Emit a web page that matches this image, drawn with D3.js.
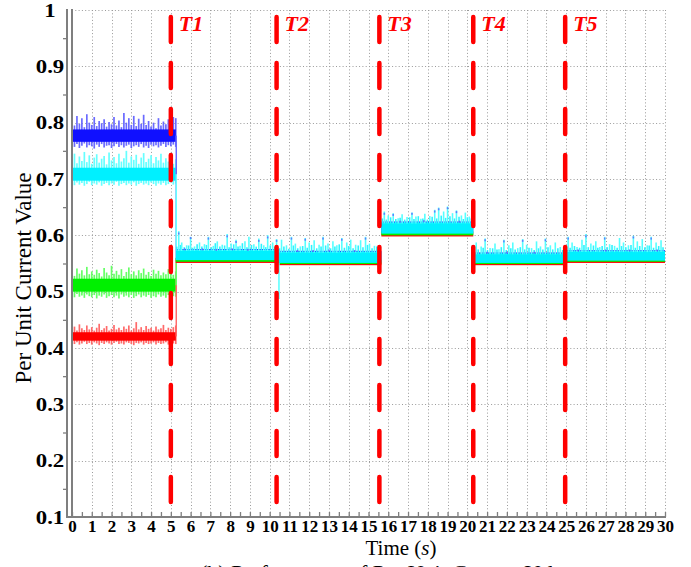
<!DOCTYPE html>
<html>
<head>
<meta charset="utf-8">
<script src="https://cdn.jsdelivr.net/npm/d3@7"></script>
<style>
body { margin: 0; background: #fff; }
svg { display: block; }
svg text { font-family: "Liberation Serif", Tinos, "Times New Roman", Times, "Nimbus Roman", FreeSerif, serif; }
</style>
</head>
<body>
<svg id="chart" width="691" height="567"></svg>
<script>
// ---- values ----
const timeTicks = d3.range(0, 31);
const valueTicks = [0.1, 0.2, 0.3, 0.4, 0.5, 0.6, 0.7, 0.8, 0.9, 1];
const events = [
	{ name: 'T1', t: 5.0 },
	{ name: 'T2', t: 10.35 },
	{ name: 'T3', t: 15.55 },
	{ name: 'T4', t: 20.3 },
	{ name: 'T5', t: 24.95 }
];

// first interval (0 - 5.25 s): noisy samples, upper / lower excursions
const startEnd = 5.25;
const blueUp = [0.805, 0.795, 0.812, 0.798, 0.808, 0.792, 0.815, 0.8, 0.796, 0.81, 0.794, 0.803, 0.799, 0.806, 0.793, 0.801, 0.797, 0.81, 0.795, 0.804, 0.792, 0.817, 0.8, 0.808, 0.796, 0.812, 0.794, 0.807, 0.798, 0.814, 0.796, 0.803, 0.793, 0.8, 0.79, 0.808, 0.795, 0.802, 0.797, 0.806, 0.792, 0.81, 0.808];
const blueDn = [0.76, 0.757, 0.762, 0.755, 0.759, 0.763, 0.756, 0.76, 0.758, 0.754, 0.761, 0.757, 0.762, 0.756, 0.759, 0.76, 0.755, 0.758, 0.762, 0.757, 0.76, 0.756, 0.759, 0.761, 0.755, 0.758, 0.76, 0.757, 0.762, 0.756, 0.759, 0.755, 0.761, 0.758, 0.76, 0.756, 0.759, 0.762, 0.757, 0.76, 0.758, 0.761, 0.757];
const cyanUp = [0.735, 0.745, 0.728, 0.74, 0.732, 0.748, 0.73, 0.742, 0.727, 0.738, 0.744, 0.729, 0.736, 0.741, 0.726, 0.747, 0.733, 0.739, 0.728, 0.745, 0.731, 0.737, 0.75, 0.729, 0.74, 0.734, 0.743, 0.727, 0.738, 0.746, 0.73, 0.736, 0.742, 0.728, 0.739, 0.733, 0.745, 0.729, 0.737, 0.731, 0.741, 0.727, 0.735];
const cyanDn = [0.692, 0.689, 0.694, 0.69, 0.693, 0.688, 0.691, 0.695, 0.689, 0.692, 0.69, 0.694, 0.688, 0.691, 0.693, 0.689, 0.692, 0.69, 0.695, 0.688, 0.691, 0.693, 0.689, 0.692, 0.69, 0.694, 0.688, 0.691, 0.693, 0.69, 0.692, 0.689, 0.694, 0.691, 0.688, 0.692, 0.69, 0.693, 0.689, 0.691, 0.694, 0.69, 0.692];
const greenUp = [0.535, 0.528, 0.541, 0.532, 0.538, 0.529, 0.544, 0.531, 0.536, 0.53, 0.539, 0.533, 0.527, 0.542, 0.534, 0.529, 0.546, 0.532, 0.537, 0.53, 0.54, 0.528, 0.535, 0.543, 0.531, 0.536, 0.529, 0.538, 0.533, 0.541, 0.53, 0.535, 0.528, 0.539, 0.532, 0.537, 0.529, 0.534, 0.531, 0.54, 0.533, 0.53, 0.536];
const greenDn = [0.494, 0.49, 0.496, 0.491, 0.493, 0.489, 0.495, 0.492, 0.49, 0.494, 0.488, 0.493, 0.491, 0.495, 0.489, 0.492, 0.494, 0.49, 0.493, 0.488, 0.495, 0.491, 0.493, 0.49, 0.494, 0.489, 0.492, 0.495, 0.49, 0.493, 0.491, 0.494, 0.489, 0.492, 0.49, 0.495, 0.491, 0.493, 0.489, 0.494, 0.49, 0.492, 0.491];
const redUp = [0.434, 0.438, 0.431, 0.442, 0.435, 0.432, 0.44, 0.433, 0.437, 0.431, 0.436, 0.443, 0.432, 0.435, 0.439, 0.431, 0.434, 0.441, 0.433, 0.436, 0.432, 0.438, 0.434, 0.44, 0.431, 0.435, 0.446, 0.433, 0.437, 0.432, 0.439, 0.434, 0.436, 0.431, 0.438, 0.433, 0.435, 0.441, 0.432, 0.436, 0.434, 0.437, 0.44];
const redDn = [0.409, 0.407, 0.41, 0.406, 0.408, 0.411, 0.407, 0.409, 0.406, 0.41, 0.408, 0.405, 0.409, 0.407, 0.41, 0.408, 0.406, 0.409, 0.411, 0.407, 0.408, 0.406, 0.41, 0.409, 0.407, 0.405, 0.409, 0.408, 0.41, 0.406, 0.409, 0.407, 0.408, 0.41, 0.406, 0.409, 0.407, 0.408, 0.41, 0.406, 0.409, 0.408, 0.407];
const startCore = { blue: [0.766, 0.788], cyan: [0.697, 0.72], green: [0.5, 0.523], red: [0.413, 0.428] };

// later intervals: switching times and [low, high] band of each phase
const stepTimes = [5.25, 10.45, 15.65, 20.3, 24.95, 30];
const blueBand = [[0.557, 0.5755], [0.552, 0.5725], [0.604, 0.6245], [0.552, 0.5695], [0.556, 0.5735]];
const redBand = [[0.551, 0.557], [0.547, 0.553], [0.598, 0.604], [0.547, 0.553], [0.551, 0.557]];
const greenBand = [[0.553, 0.56], [0.549, 0.556], [0.6, 0.607], [0.549, 0.556], [0.553, 0.56]];
const cyanBand = [[0.556, 0.574], [0.551, 0.571], [0.603, 0.623], [0.551, 0.568], [0.555, 0.572]];

// cyan spikes above the band [time, value]
const cyanPeaks = [
	[5.4, 0.61], [5.55, 0.59], [5.8, 0.585], [6.0, 0.6], [6.2, 0.583], [6.45, 0.59], [6.7, 0.587], [6.9, 0.6], [7.15, 0.584], [7.35, 0.592], [7.6, 0.586], [7.85, 0.605], [8.05, 0.588], [8.3, 0.595], [8.5, 0.584], [8.75, 0.592], [8.95, 0.6], [9.2, 0.587], [9.45, 0.597], [9.7, 0.585], [9.9, 0.603], [10.15, 0.59], [10.35, 0.596],
	[10.6, 0.595], [10.85, 0.585], [11.1, 0.6], [11.3, 0.588], [11.55, 0.583], [11.8, 0.598], [12.0, 0.59], [12.25, 0.594], [12.5, 0.586], [12.7, 0.6], [12.95, 0.588], [13.2, 0.592], [13.4, 0.585], [13.65, 0.598], [13.9, 0.59], [14.1, 0.595], [14.35, 0.586], [14.6, 0.594], [14.85, 0.6], [15.05, 0.588], [15.3, 0.584],
	[15.8, 0.645], [16.0, 0.638], [16.25, 0.642], [16.5, 0.633], [16.7, 0.64], [16.95, 0.635], [17.2, 0.643], [17.4, 0.636], [17.65, 0.632], [17.85, 0.641], [18.1, 0.637], [18.35, 0.648], [18.55, 0.652], [18.8, 0.645], [19.0, 0.654], [19.25, 0.642], [19.45, 0.647], [19.7, 0.638], [19.9, 0.643], [20.1, 0.636],
	[20.45, 0.59], [20.7, 0.583], [20.9, 0.597], [21.15, 0.58], [21.4, 0.588], [21.6, 0.578], [21.85, 0.595], [22.1, 0.585], [22.3, 0.59], [22.55, 0.58], [22.8, 0.596], [23.0, 0.586], [23.25, 0.58], [23.5, 0.592], [23.7, 0.583], [23.95, 0.597], [24.2, 0.585], [24.45, 0.59], [24.7, 0.582],
	[25.1, 0.6], [25.3, 0.59], [25.55, 0.582], [25.8, 0.595], [26.0, 0.605], [26.25, 0.588], [26.5, 0.592], [26.7, 0.582], [26.95, 0.6], [27.2, 0.587], [27.45, 0.584], [27.7, 0.598], [27.9, 0.59], [28.15, 0.585], [28.4, 0.602], [28.6, 0.592], [28.85, 0.596], [29.1, 0.585], [29.3, 0.6], [29.55, 0.59], [29.8, 0.594]
];
// smaller cyan ripple on top of the band [time, value]
const cyanRipple = [
	[5.3, 0.58], [5.48, 0.583], [5.68, 0.579], [5.9, 0.582], [6.1, 0.578], [6.33, 0.584], [6.57, 0.58], [6.8, 0.583], [7.05, 0.579], [7.25, 0.586], [7.48, 0.58], [7.72, 0.582], [7.95, 0.579], [8.18, 0.584], [8.4, 0.58], [8.62, 0.586], [8.85, 0.579], [9.08, 0.583], [9.32, 0.58], [9.58, 0.585], [9.8, 0.579], [10.03, 0.582], [10.25, 0.58],
	[10.5, 0.577], [10.72, 0.58], [10.97, 0.576], [11.2, 0.582], [11.42, 0.577], [11.67, 0.581], [11.9, 0.578], [12.12, 0.583], [12.38, 0.577], [12.6, 0.58], [12.83, 0.582], [13.08, 0.577], [13.3, 0.58], [13.52, 0.584], [13.78, 0.578], [14.0, 0.581], [14.22, 0.577], [14.48, 0.582], [14.72, 0.579], [14.95, 0.583], [15.18, 0.577], [15.42, 0.58],
	[15.7, 0.63], [15.9, 0.628], [16.12, 0.632], [16.38, 0.629], [16.6, 0.631], [16.83, 0.628], [17.08, 0.632], [17.3, 0.629], [17.52, 0.634], [17.75, 0.63], [17.98, 0.628], [18.22, 0.633], [18.45, 0.63], [18.68, 0.635], [18.9, 0.631], [19.12, 0.634], [19.35, 0.63], [19.58, 0.633], [19.8, 0.629], [20.0, 0.632], [20.2, 0.63],
	[20.55, 0.575], [20.8, 0.578], [21.02, 0.574], [21.28, 0.577], [21.5, 0.575], [21.72, 0.579], [21.97, 0.574], [22.2, 0.577], [22.42, 0.575], [22.68, 0.579], [22.9, 0.575], [23.12, 0.578], [23.38, 0.574], [23.6, 0.577], [23.82, 0.575], [24.08, 0.579], [24.32, 0.575], [24.58, 0.577], [24.82, 0.574],
	[25.0, 0.58], [25.2, 0.578], [25.42, 0.581], [25.68, 0.578], [25.9, 0.583], [26.12, 0.579], [26.38, 0.582], [26.6, 0.578], [26.82, 0.581], [27.08, 0.579], [27.32, 0.583], [27.58, 0.578], [27.8, 0.581], [28.02, 0.579], [28.28, 0.583], [28.5, 0.578], [28.72, 0.581], [28.98, 0.579], [29.2, 0.582], [29.42, 0.578], [29.68, 0.581], [29.9, 0.579]
];
// blue samples poking out at the top [time, value]
const bluePeaks = [
	[5.4, 0.605], [5.7, 0.577], [6.0, 0.597], [6.6, 0.577], [6.9, 0.596], [7.3, 0.576], [7.85, 0.6], [8.1, 0.577], [8.3, 0.59], [8.9, 0.576], [9.45, 0.592], [9.9, 0.598], [10.35, 0.592],
	[11.1, 0.596], [11.4, 0.574], [11.8, 0.594], [12.2, 0.574], [12.7, 0.596], [13.0, 0.575], [13.65, 0.594], [14.3, 0.574], [14.85, 0.596],
	[15.8, 0.64], [16.25, 0.638], [16.6, 0.626], [17.2, 0.64], [17.8, 0.627], [18.35, 0.644], [18.55, 0.648], [19.0, 0.65], [19.45, 0.643], [19.6, 0.626],
	[20.9, 0.593], [21.0, 0.571], [21.85, 0.591], [22.0, 0.571], [22.8, 0.592], [23.4, 0.571], [23.95, 0.593],
	[25.1, 0.596], [25.6, 0.575], [26.0, 0.6], [26.95, 0.596], [27.0, 0.575], [28.2, 0.575], [28.4, 0.598], [29.3, 0.596], [29.6, 0.575]
];
// cyan dip right after T2 [time, value]
const cyanDip = [10.47, 0.487];

// ---- drawing ----
const svg = d3.select('#chart');
const x = d3.scaleLinear().domain([0, 30]).range([72, 665]);
const y = d3.scaleLinear().domain([0.1, 1]).range([517, 10]);

const colors = {
	blue: { core: '#1010ff', light: '#6a6aff' },
	cyan: { core: '#00f0ff', light: '#66ffff' },
	green: { core: '#00f000', light: '#66ff66' },
	red: { core: '#ff0000', light: '#ff6a6a' }
};

// grid
const $grid = svg.append('g').attr('class', 'grid')
	.attr('stroke', '#9a9a9a').attr('stroke-width', 1).attr('stroke-dasharray', '1 2.3');
$grid.selectAll('line.v')
	.data(timeTicks.filter(d => d > 0))
	.enter().append('line')
	.attr('x1', d => Math.round(x(d)) + 0.5).attr('x2', d => Math.round(x(d)) + 0.5)
	.attr('y1', y(1)).attr('y2', y(0.1));
$grid.selectAll('line.h')
	.data(valueTicks.filter(d => d > 0.1))
	.enter().append('line')
	.attr('y1', d => Math.round(y(d)) + 0.5).attr('y2', d => Math.round(y(d)) + 0.5)
	.attr('x1', x(0)).attr('x2', x(30));

// traces
const $traces = svg.append('g').attr('class', 'traces');
const startSeries = [
	{ key: 'blue', up: blueUp, dn: blueDn },
	{ key: 'cyan', up: cyanUp, dn: cyanDn },
	{ key: 'green', up: greenUp, dn: greenDn },
	{ key: 'red', up: redUp, dn: redDn }
];
startSeries.forEach(s => {
	const n = s.up.length;
	const c = colors[s.key];
	$traces.append('g')
		.selectAll('line')
		.data(s.up.map((u, i) => ({ t: i * startEnd / (n - 1), u, d: s.dn[i] })))
		.enter().append('line')
		.attr('x1', d => x(d.t)).attr('x2', d => x(d.t))
		.attr('y1', d => y(d.u)).attr('y2', d => y(d.d))
		.attr('stroke', c.light).attr('stroke-width', 1.7);
	const core = startCore[s.key];
	$traces.append('rect')
		.attr('x', x(0)).attr('width', x(startEnd) - x(0))
		.attr('y', y(core[1])).attr('height', y(core[0]) - y(core[1]))
		.attr('fill', c.core);
});

// drop / rise at the first switching instant
const laterSeries = [
	{ key: 'blue', band: blueBand },
	{ key: 'red', band: redBand },
	{ key: 'green', band: greenBand },
	{ key: 'cyan', band: cyanBand }
];
laterSeries.forEach(s => {
	const core = startCore[s.key];
	$traces.append('line')
		.attr('x1', x(startEnd) + 0.5).attr('x2', x(startEnd) + 0.5)
		.attr('y1', y(d3.mean(core))).attr('y2', y(s.band[0][1]))
		.attr('stroke', colors[s.key].light).attr('stroke-width', 1.5);
});

laterSeries.forEach(s => {
	$traces.append('g')
		.selectAll('rect')
		.data(s.band)
		.enter().append('rect')
		.attr('x', (d, i) => x(stepTimes[i]))
		.attr('width', (d, i) => x(stepTimes[i + 1]) - x(stepTimes[i]))
		.attr('y', d => y(d[1]))
		.attr('height', d => y(d[0]) - y(d[1]))
		.attr('fill', colors[s.key].core);
});

const bandAt = t => cyanBand[Math.max(0, d3.bisectRight(stepTimes, t) - 1)];
$traces.append('g')
	.selectAll('line')
	.data(cyanRipple)
	.enter().append('line')
	.attr('x1', d => x(d[0])).attr('x2', d => x(d[0]))
	.attr('y1', d => y(bandAt(d[0])[1]) + 1).attr('y2', d => y(d[1]))
	.attr('stroke', '#2ef2ff').attr('stroke-width', 1.6);
$traces.append('g')
	.selectAll('line')
	.data(cyanPeaks)
	.enter().append('line')
	.attr('x1', d => x(d[0])).attr('x2', d => x(d[0]))
	.attr('y1', d => y(bandAt(d[0])[1]) + 1).attr('y2', d => y(d[1]) + 1.5)
	.attr('stroke', '#55ffff').attr('stroke-width', 1.6);

// blue tips over the cyan spikes
$traces.append('g')
	.selectAll('rect')
	.data(bluePeaks)
	.enter().append('rect')
	.attr('x', d => x(d[0]) - 0.8).attr('width', 1.6)
	.attr('y', d => y(d[1])).attr('height', 2)
	.attr('fill', '#5a5aff').attr('opacity', 0.75);

$traces.append('line')
	.attr('x1', x(cyanDip[0])).attr('x2', x(cyanDip[0]))
	.attr('y1', y(cyanBand[1][0])).attr('y2', y(cyanDip[1]))
	.attr('stroke', '#55ffff').attr('stroke-width', 1.5);

// axes lines
const axisColor = '#7f7f7f';
svg.append('line')
	.attr('x1', x(0) - 5).attr('x2', x(0) - 5).attr('y1', y(1) - 1).attr('y2', y(0.1) + 1)
	.attr('stroke', axisColor).attr('stroke-width', 2);
svg.append('line')
	.attr('x1', x(0)).attr('x2', x(0)).attr('y1', y(1) - 1).attr('y2', y(0.1) + 1)
	.attr('stroke', axisColor).attr('stroke-width', 2);
svg.append('line')
	.attr('x1', x(0) - 6).attr('x2', x(30) + 1).attr('y1', y(0.1)).attr('y2', y(0.1))
	.attr('stroke', axisColor).attr('stroke-width', 2);

// minor ticks
const xMinor = svg.append('g')
	.attr('transform', `translate(0,${y(0.1)})`)
	.call(d3.axisBottom(x).tickValues(d3.range(0, 30.01, 0.5)).tickSize(-5).tickFormat(''));
xMinor.select('.domain').remove();
xMinor.selectAll('line').attr('stroke', axisColor).attr('stroke-width', 1.3);

const yMinor = svg.append('g')
	.attr('transform', `translate(${x(0) - 6},0)`)
	.call(d3.axisLeft(y).tickValues(d3.range(0.15, 1, 0.1)).tickSize(3).tickFormat(''));
yMinor.select('.domain').remove();
yMinor.selectAll('line').attr('stroke', axisColor).attr('stroke-width', 1.3);

// tick labels
const xLabels = svg.append('g')
	.attr('transform', `translate(0,${y(0.1)})`)
	.call(d3.axisBottom(x).tickValues(timeTicks).tickSize(0).tickPadding(3).tickFormat(d3.format('d')));
xLabels.select('.domain').remove();
xLabels.attr('font-family', null);
xLabels.selectAll('text')
	.attr('fill', '#000').attr('font-size', 17).attr('font-weight', 'bold');

const yLabels = svg.append('g')
	.attr('transform', 'translate(50,0)')
	.call(d3.axisLeft(y).tickValues(valueTicks).tickSize(0).tickPadding(0)
		.tickFormat(d => d === 1 ? '1' : d3.format('.1f')(d)));
yLabels.select('.domain').remove();
yLabels.attr('font-family', null);
yLabels.selectAll('text')
	.attr('x', 0).attr('text-anchor', 'middle')
	.attr('transform', 'scale(1.2,1)')
	.attr('fill', '#000').attr('font-size', 19).attr('font-weight', 'bold');

// switching instants
const $events = svg.append('g').attr('class', 'events');
$events.selectAll('line')
	.data(events)
	.enter().append('line')
	.attr('x1', d => x(d.t)).attr('x2', d => x(d.t))
	.attr('y1', y(1) + 7).attr('y2', y(0.1) - 10)
	.attr('stroke', '#ff0000').attr('stroke-width', 4.5)
	.attr('stroke-linecap', 'round').attr('stroke-dasharray', '25 21');
$events.selectAll('text')
	.data(events)
	.enter().append('text')
	.attr('x', d => x(d.t) + 8).attr('y', 31)
	.attr('fill', '#ff0000').attr('font-size', 22)
	.attr('font-weight', 'bold').attr('font-style', 'italic')
	.text(d => d.name);

// titles
const xTitle = svg.append('text')
	.attr('x', 401).attr('y', 555).attr('text-anchor', 'middle')
	.attr('font-size', 21);
xTitle.append('tspan').text('Time (');
xTitle.append('tspan').attr('font-style', 'italic').text('s');
xTitle.append('tspan').text(')');

svg.append('text')
	.attr('transform', 'translate(31,278) rotate(-90)')
	.attr('text-anchor', 'middle').attr('font-size', 23)
	.text('Per Unit Current Value');

svg.append('text')
	.attr('x', 200).attr('y', 580).attr('font-size', 22)
	.text('(b)  Performance of Per Unit Current Value');
</script>
</body>
</html>
